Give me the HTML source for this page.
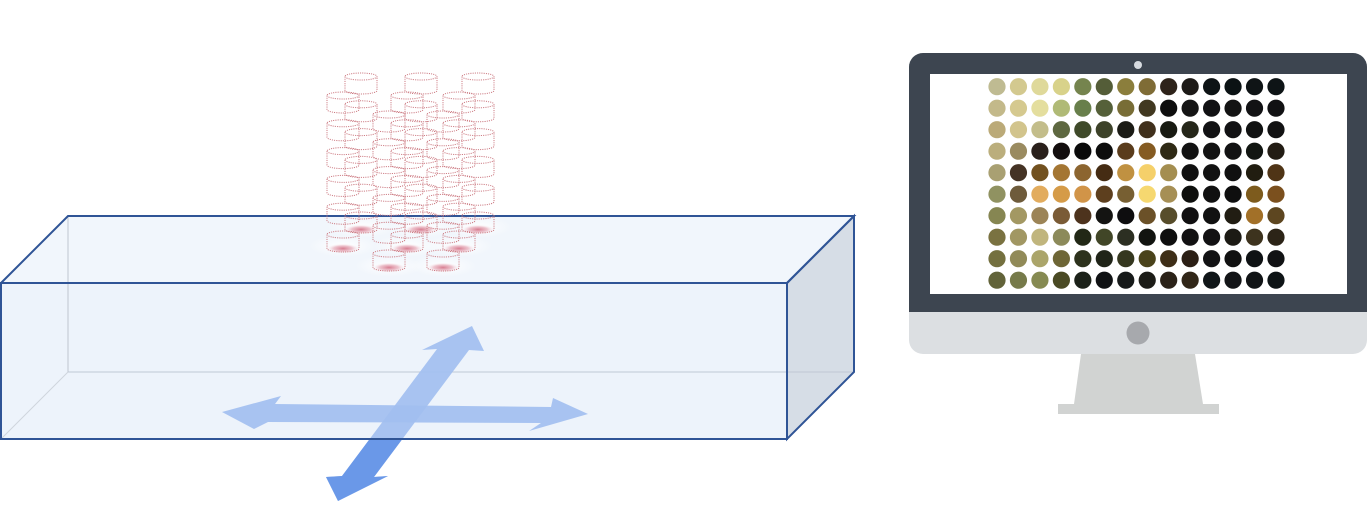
<!DOCTYPE html>
<html><head><meta charset="utf-8"><style>html,body{margin:0;padding:0;background:#fff}svg{display:block}</style></head><body>
<svg width="1372" height="505" viewBox="0 0 1372 505" xmlns="http://www.w3.org/2000/svg">
<defs>
<radialGradient id="pk" cx="50%" cy="50%" r="50%"><stop offset="0" stop-color="#d77d90"/><stop offset="0.55" stop-color="#eab7c3" stop-opacity="0.8"/><stop offset="1" stop-color="#fff" stop-opacity="0"/></radialGradient>
<radialGradient id="gl" cx="50%" cy="50%" r="50%"><stop offset="0" stop-color="#fff" stop-opacity="0.95"/><stop offset="1" stop-color="#fff" stop-opacity="0"/></radialGradient>
<clipPath id="below"><rect x="0" y="439.5" width="800" height="70"/></clipPath>
</defs>
<polygon points="1,283 68,216 854,216 787,283" fill="#f1f6fc"/>
<polygon points="1,283 787,283 787,439 1,439" fill="#edf3fb"/>
<polygon points="787,283 854,216 854,372 787,439" fill="#d6dde6"/>
<line x1="68" y1="216" x2="68" y2="372" stroke="#c0c6cf" stroke-width="1"/>
<line x1="68" y1="372" x2="854" y2="372" stroke="#c0c8d4" stroke-width="1"/>
<line x1="1" y1="439" x2="68" y2="372" stroke="#cfd5dd" stroke-width="1"/>
<g fill="none" stroke="#2f5496" stroke-width="2">
<polygon points="1,283 68,216 854,216 787,283"/>
<rect x="1" y="283" width="786" height="156"/>
<polygon points="787,283 854,216 854,372 787,439"/>
</g>
<g>
<ellipse cx="343" cy="246" rx="34" ry="11" fill="url(#gl)"/>
<ellipse cx="361" cy="227" rx="34" ry="11" fill="url(#gl)"/>
<ellipse cx="389" cy="266" rx="34" ry="11" fill="url(#gl)"/>
<ellipse cx="407" cy="246" rx="34" ry="11" fill="url(#gl)"/>
<ellipse cx="421" cy="227" rx="34" ry="11" fill="url(#gl)"/>
<ellipse cx="443" cy="266" rx="34" ry="11" fill="url(#gl)"/>
<ellipse cx="459" cy="246" rx="34" ry="11" fill="url(#gl)"/>
<ellipse cx="478" cy="227" rx="34" ry="11" fill="url(#gl)"/>
</g>
<g id="cyls" fill="none" stroke="#cc7a82" stroke-width="1" stroke-dasharray="1.1,1.1"></g>
<polygon points="222,412 281,396 275,404 551,407 553,398 588,414 529,431 541,423 268,422 254,429" fill="#a2bff0" fill-opacity="0.92"/>
<polygon points="472,326 484,351 469,350 374,477 388,476 338,501 326,477 342,476 437,349 422,350" fill="#a2bff0" fill-opacity="0.92"/>
<polygon clip-path="url(#below)" points="472,326 484,351 469,350 374,477 388,476 338,501 326,477 342,476 437,349 422,350" fill="#6a98e8"/>
<line x1="1" y1="439" x2="787" y2="439" stroke="#2f5496" stroke-width="2"/>
<rect x="909" y="53" width="458" height="301" rx="14" fill="#dcdfe2"/>
<path d="M923,53 H1353 a14,14 0 0 1 14,14 V312 H909 V67 a14,14 0 0 1 14,-14 Z" fill="#3d4550"/>
<rect x="930" y="74" width="417" height="220" fill="#fff"/>
<circle cx="1138" cy="65" r="4" fill="#d7dbe0"/>
<circle cx="1138" cy="333" r="11.5" fill="#a7a9ad"/>
<polygon points="1081,354 1195,354 1203,404 1074,404" fill="#d1d3d2"/>
<rect x="1058" y="404" width="161" height="10" fill="#d1d3d2"/>
<g id="grid"></g>
<script>
(function(){
var ns='http://www.w3.org/2000/svg';
var cg=document.getElementById('cyls');
var cols=[[345,73],[405,73],[462,73],[327,92],[391,92],[443,92],[373,111],[427,111]];
cols.forEach(function(c){
 for(var i=0;i<6;i++){
  var x=c[0],t=c[1]+i*27.8+3.5;
  if(i==5){var e=document.createElementNS(ns,'ellipse');e.setAttribute('cx',x+16);e.setAttribute('cy',t+14);e.setAttribute('rx',17);e.setAttribute('ry',5);e.setAttribute('fill','url(#pk)');e.setAttribute('stroke','none');cg.appendChild(e);}
  var p=document.createElementNS(ns,'path');
  p.setAttribute('d','M'+x+','+t+' a16,3.5 0 1,0 32,0 a16,3.5 0 1,0 -32,0 M'+x+','+t+' v14 a16,3.5 0 0,0 32,0 v-14');
  cg.appendChild(p);
 }
});
var C=[
"#bfbb92 #d3c98f #dfd99a #d8d28a #75844e #545d38 #8b7e3c #7f6c36 #2e231a #1d1a17 #0d1315 #0b1214 #0f1416 #0e1416",
"#c3b98a #d5c98f #e4de9e #b0ba76 #687f4b #556039 #786d36 #413820 #0e0e0e #141414 #111113 #131313 #121214 #111113",
"#bbaa78 #d2c48c #c3bd8a #5e6840 #3f4a2a #3d4229 #1b1b15 #40301c #181a12 #252619 #121214 #121214 #111212 #121213",
"#bbae7c #9a8b60 #2a201b #130e0e #0a0a0a #0e0e0d #5a3c1c #855b22 #2f2a15 #121212 #131313 #121213 #121612 #221c14",
"#a9a072 #453325 #72511f #a47633 #8c6530 #452c13 #c09141 #f5d06a #a48e50 #101010 #121212 #101010 #211d10 #4f3416",
"#909261 #6e5b3b #e2ac5e #d59b48 #d19448 #5d3f1e #775f32 #f6d870 #a68f55 #0e0f0d #111111 #0f0f0f #7d5b1d #7b501e",
"#868652 #a39863 #9c8457 #7a5b36 #4d331d #141412 #0e0d0f #6b5128 #574d2b #111011 #111111 #211d13 #a27028 #5d4620",
"#7a7241 #a19763 #c0b57d #8c8a5a #222816 #414627 #2c2f22 #121410 #0f0f0f #121112 #121113 #1c1a14 #3d331e #2c2417",
"#74703f #918a58 #aba56a #6e6636 #2d321d #202418 #35371f #4a431b #3e2e17 #2b1f15 #121214 #111111 #0f1214 #111214",
"#626339 #767a4a #868a52 #4a4a24 #1c2219 #101214 #171a1a #1c1c17 #2b2218 #312618 #101618 #131517 #111416 #0e1416"];
var g=document.getElementById('grid');
for(var r=0;r<10;r++){var row=C[r].split(' ');for(var c=0;c<14;c++){var e=document.createElementNS(ns,'circle');e.setAttribute('cx',997+c*21.46);e.setAttribute('cy',86.7+r*21.5);e.setAttribute('r',8.6);e.setAttribute('fill',row[c]);g.appendChild(e);}}
})();
</script>
</svg>
</body></html>
